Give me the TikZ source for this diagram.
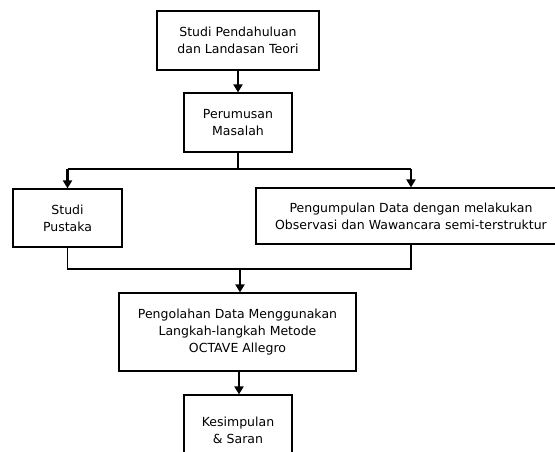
\documentclass[tikz,border=0pt]{standalone}
\usepackage{fontspec}
\setmainfont{DejaVu Sans}
\usetikzlibrary{arrows.meta}
\tikzset{
  box/.style={draw, line width=1.2pt, align=center, inner sep=0pt, font=\fontsize{12.5}{17}\selectfont},
  arr/.style={line width=2.2pt, -{Triangle[width=9pt,length=8pt]}},
  thin line/.style={line width=1.4pt}
}
\begin{document}
\begin{tikzpicture}[x=1pt,y=-1pt]
\clip (0,0) rectangle (555,452);
\node[box, minimum width=162pt, minimum height=59pt] (b1) at (238,40.5) {Studi Pendahuluan\\dan Landasan Teori};
\node[box, minimum width=108pt, minimum height=59pt] (b2) at (238,122.5) {Perumusan\\Masalah};
\node[box, minimum width=109pt, minimum height=58pt] (bl) at (67.5,218) {Studi\\Pustaka};
\node[box, minimum width=310pt, minimum height=56pt] (br) at (411,216) {Pengumpulan Data dengan melakukan\\Observasi dan Wawancara semi-terstruktur};
\node[box, minimum width=237pt, minimum height=78pt] (b3) at (237.5,332) {Pengolahan Data Menggunakan\\Langkah-langkah Metode\\OCTAVE Allegro};
\node[box, minimum width=108pt, minimum height=70pt] (b4) at (238,430) {Kesimpulan\\\& Saran};
\coordinate (j1) at (238,169);
\coordinate (j1l) at (67.5,169);
\coordinate (j1r) at (411,169);
\coordinate (j2r) at (411,269);
\coordinate (j2) at (240,269);
\coordinate (k1) at (239,371);
\draw[arr] (b1) -- (b2);
\draw[thin line] (b2.south) -- (j1);
\draw[thin line] (j1l) -- (j1r);
\draw[arr] (j1l) -- (bl.north);
\draw[arr] (j1r) -- (br.north);
\draw[thin line] (bl.south) |- (j2r) -- (br.south);
\draw[arr] (j2) -- (j2 |- b3.north);
\draw[arr] (k1) -- (k1 |- b4.north);
\end{tikzpicture}
\end{document}
